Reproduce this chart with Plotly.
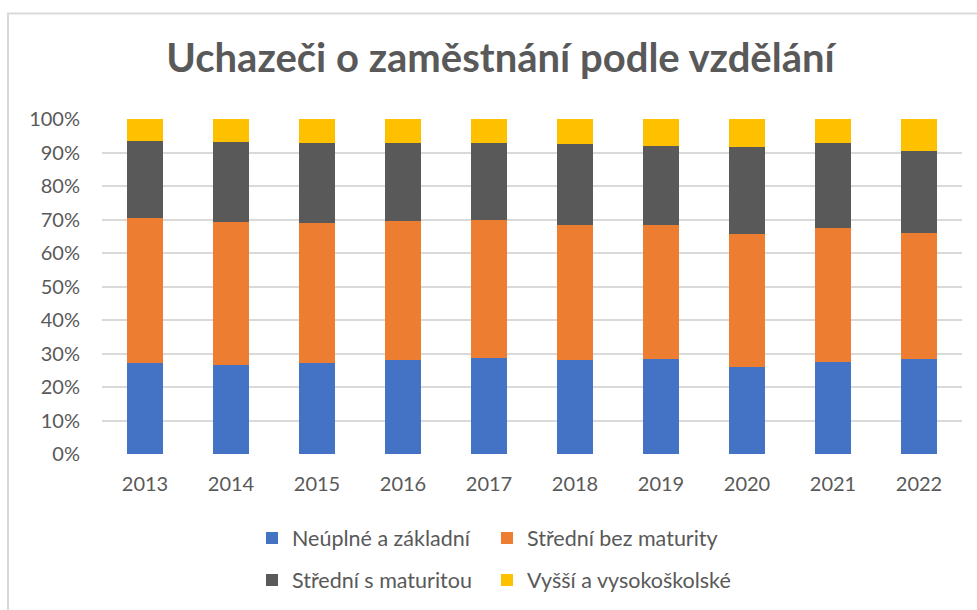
import plotly.graph_objects as go

years = ["2013", "2014", "2015", "2016", "2017", "2018", "2019", "2020", "2021", "2022"]
zakladni = [27.1, 26.5, 27.3, 28.1, 28.6, 28.2, 28.4, 25.9, 27.6, 28.5]
bez_maturity = [43.4, 42.8, 41.6, 41.6, 41.3, 40.2, 39.9, 39.9, 40.0, 37.6]
s_maturitou = [22.8, 23.8, 23.9, 23.2, 23.0, 24.1, 23.7, 25.9, 25.1, 24.4]
vysokoskolske = [6.7, 6.9, 7.2, 7.1, 7.1, 7.5, 8.0, 8.3, 7.3, 9.5]

names = ["Neúplné a základní", "Střední bez maturity", "Střední s maturitou", "Vyšší a vysokoškolské"]
colors = ["#4472C4", "#ED7D31", "#595959", "#FFC000"]
series = [zakladni, bez_maturity, s_maturitou, vysokoskolske]
legends = ["legend", "legend2", "legend3", "legend4"]

FONT = "Lato"
TXT = "#595959"

fig = go.Figure()
for name, vals, col, lg in zip(names, series, colors, legends):
    fig.add_trace(go.Bar(
        x=years, y=vals, name=name, marker=dict(color=col, line=dict(width=0)),
        legend=lg, showlegend=True,
    ))

COL1 = (252 - 102) / 860
COL2 = (252 + 235 - 102) / 860
ROW1 = (454 - 538) / 335
ROW2 = (454 - 580) / 335


def leg(x, y):
    return dict(orientation="h", x=x, xanchor="left", y=y, yanchor="middle",
                font=dict(size=21.5, color=TXT), bgcolor="rgba(0,0,0,0)")


fig.update_layout(
    showlegend=True,
    barmode="stack",
    barnorm="percent",
    bargap=0.59,
    width=977, height=610,
    margin=dict(l=102, r=15, t=119, b=156, autoexpand=False),
    paper_bgcolor="white", plot_bgcolor="white",
    font=dict(family=FONT, color=TXT, size=20),
    title=dict(text="<b>Uchazeči o zaměstnání podle vzdělání</b>",
               x=500.5 / 977, xanchor="center", y=1 - 58 / 610, yanchor="middle",
               font=dict(family=FONT, size=40, color=TXT)),
    xaxis=dict(showgrid=False, showline=False, ticks="", tickfont=dict(size=20, color=TXT),
               ticklabelstandoff=16),
    yaxis=dict(range=[0, 100], dtick=10, ticksuffix="%", showgrid=True, gridcolor="#D9D9D9",
               gridwidth=1.5, zeroline=False, showline=False, ticks="",
               tickfont=dict(size=20, color=TXT), ticklabelstandoff=21),
    legend=leg(COL1, ROW1),
    legend2=leg(COL2, ROW1),
    legend3=leg(COL1, ROW2),
    legend4=leg(COL2, ROW2),
    shapes=[dict(type="rect", xref="paper", yref="paper",
                 x0=(8 - 102) / 860, x1=1.2, y0=-0.6, y1=(454 - 13.5) / 335,
                 line=dict(color="#D9D9D9", width=2), fillcolor="rgba(0,0,0,0)", layer="below")],
)

fig.write_html("out.html", config={"displayModeBar": False},
               post_script="document.body.style.margin='0px';")
